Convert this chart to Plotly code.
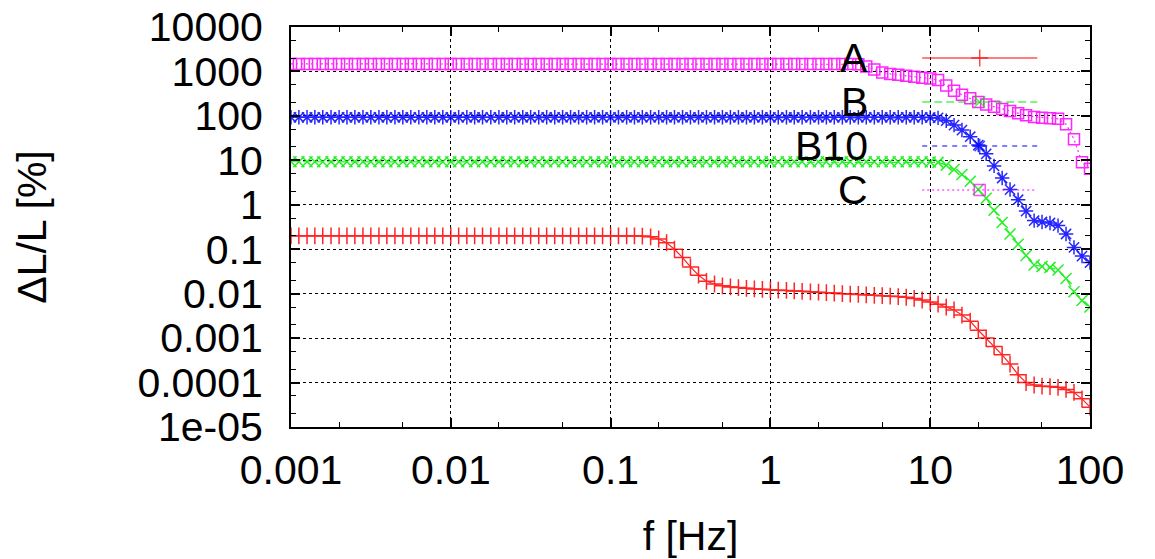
import plotly.graph_objects as go

# ---------------- data ----------------
mantissas = [1.0, 1.12, 1.26, 1.41, 1.58, 1.78, 2.0, 2.24, 2.51, 2.82,
             3.16, 3.55, 3.98, 4.47, 5.01, 5.62, 6.31, 7.08, 7.94, 8.91]
decades = [0.001, 0.01, 0.1, 1, 10]
f_end = [100]
freq = [m * d for d in decades for m in mantissas] + f_end

series_names = ["A", "B", "B10", "C"]

A = [0.2, 0.2, 0.2, 0.2, 0.2, 0.2, 0.2, 0.2, 0.2, 0.2,
     0.2, 0.2, 0.2, 0.2, 0.2, 0.2, 0.2, 0.2, 0.2, 0.2,
     0.2, 0.2, 0.2, 0.2, 0.2, 0.2, 0.2, 0.2, 0.2, 0.2,
     0.2, 0.2, 0.2, 0.2, 0.2, 0.2, 0.2, 0.2, 0.2, 0.2,
     0.2, 0.2, 0.2, 0.2, 0.198, 0.19, 0.17, 0.14, 0.1, 0.065,
     0.04, 0.026, 0.019, 0.0165, 0.015, 0.0142, 0.0137, 0.0132, 0.0128, 0.0125,
     0.0122, 0.012, 0.0118, 0.0115, 0.0113, 0.011, 0.0108, 0.0105, 0.0103, 0.01,
     0.0098, 0.0096, 0.0094, 0.0092, 0.009, 0.0088, 0.0086, 0.0083, 0.0078, 0.0072,
     0.0065, 0.0058, 0.005, 0.0043, 0.0033, 0.0024, 0.0015, 0.001, 0.00065, 0.00042,
     0.00026, 0.00015, 0.0001, 8.8e-5, 8.3e-5, 8.1e-5, 7.8e-5, 7.0e-5, 6.0e-5, 4.3e-5,
     2.8e-5]

B = [9.3, 9.3, 9.3, 9.3, 9.3, 9.3, 9.3, 9.3, 9.3, 9.3,
     9.3, 9.3, 9.3, 9.3, 9.3, 9.3, 9.3, 9.3, 9.3, 9.3,
     9.3, 9.3, 9.3, 9.3, 9.3, 9.3, 9.3, 9.3, 9.3, 9.3,
     9.3, 9.3, 9.3, 9.3, 9.3, 9.3, 9.3, 9.3, 9.3, 9.3,
     9.3, 9.3, 9.3, 9.3, 9.3, 9.3, 9.3, 9.3, 9.3, 9.3,
     9.3, 9.3, 9.3, 9.3, 9.3, 9.3, 9.3, 9.3, 9.3, 9.3,
     9.3, 9.3, 9.3, 9.3, 9.3, 9.3, 9.3, 9.3, 9.3, 9.3,
     9.3, 9.3, 9.3, 9.3, 9.3, 9.3, 9.3, 9.3, 9.3, 9.3,
     9.2, 9.0, 7.8, 6.2, 4.8, 3.4, 2.2, 1.4, 0.75, 0.4,
     0.22, 0.13, 0.072, 0.044, 0.041, 0.039, 0.034, 0.022, 0.011, 0.007,
     0.005]

B10 = [93, 93, 93, 93, 93, 93, 93, 93, 93, 93,
       93, 93, 93, 93, 93, 93, 93, 93, 93, 93,
       93, 93, 93, 93, 93, 93, 93, 93, 93, 93,
       93, 93, 93, 93, 93, 93, 93, 93, 93, 93,
       93, 93, 93, 93, 93, 93, 93, 93, 93, 93,
       93, 93, 93, 93, 93, 93, 93, 93, 93, 93,
       93, 93, 93, 93, 93, 93, 93, 93, 93, 93,
       93, 93, 93, 93, 93, 93, 93, 93, 93, 93,
       92, 90, 78, 62, 48, 34, 22, 14, 7.5, 4.0,
       2.2, 1.3, 0.72, 0.44, 0.41, 0.39, 0.34, 0.22, 0.11, 0.07,
       0.05]

C = [1480, 1480, 1480, 1480, 1480, 1480, 1480, 1480, 1480, 1480,
     1480, 1480, 1480, 1480, 1480, 1480, 1480, 1480, 1480, 1480,
     1480, 1480, 1480, 1480, 1480, 1480, 1480, 1480, 1480, 1480,
     1480, 1480, 1480, 1480, 1480, 1480, 1480, 1480, 1480, 1480,
     1480, 1480, 1480, 1480, 1480, 1480, 1480, 1480, 1480, 1480,
     1480, 1480, 1480, 1480, 1480, 1480, 1480, 1480, 1480, 1480,
     1480, 1480, 1480, 1480, 1480, 1480, 1480, 1480, 1480, 1480,
     1480, 1450, 1300, 1100, 950, 880, 840, 800, 760, 720,
     690, 640, 480, 370, 300, 250, 205, 180, 160, 142,
     128, 115, 103, 95, 91, 89, 86, 65, 30, 9,
     6.5]

y_tickvals = [1e-5, 1e-4, 1e-3, 1e-2, 1e-1, 1, 10, 100, 1000, 10000]
y_ticktext = ["1e-05", "0.0001", "0.001", "0.01", "0.1", "1", "10", "100", "1000", "10000"]
x_tickvals = [0.001, 0.01, 0.1, 1, 10, 100]
x_ticktext = ["0.001", "0.01", "0.1", "1", "10", "100"]

# ---------------- styles ----------------
FONT = "Liberation Sans, Arial, sans-serif"
FS = 41
colors = {"A": "#ff0000", "B": "#00ee00", "B10": "#0000ff", "C": "#ff00ff"}
symbols = {"A": "cross-thin-open", "B": "x-thin-open", "B10": "asterisk-open", "C": "square-open"}
sizes = {"A": 12, "B": 11, "B10": 12, "C": 11}
dashes = {"A": "solid", "B": "8px,4px", "B10": "5px,5px", "C": "2px,3px"}
values = {"A": A, "B": B, "B10": B10, "C": C}

fig = go.Figure()

for name in series_names:
    fig.add_trace(go.Scatter(
        x=freq, y=values[name], mode="lines+markers", name=name,
        line=dict(color=colors[name], width=1.2, dash=dashes[name]),
        marker=dict(symbol=symbols[name], size=sizes[name], color=colors[name],
                    line=dict(color=colors[name], width=1.5)),
        opacity=0.85, showlegend=False,
    ))

# legend (gnuplot-style: text right-aligned, sample to the right)
legend_rows = [0.9225, 0.8125, 0.7025, 0.5925]
for name, ry in zip(series_names, legend_rows):
    fig.add_trace(go.Scatter(
        x=[0.79, 0.862, 0.934], y=[ry, ry, ry], xaxis="x2", yaxis="y2",
        mode="lines+markers", showlegend=False, hoverinfo="skip",
        line=dict(color=colors[name], width=1.2, dash=dashes[name]),
        marker=dict(symbol=symbols[name], size=[0, sizes[name], 0], color=colors[name],
                    line=dict(color=colors[name], width=1.5)),
    ))
    fig.add_annotation(x=0.725, y=ry, xref="paper", yref="paper", text=name,
                       showarrow=False, xanchor="right", yanchor="middle",
                       font=dict(family=FONT, size=FS, color="black"))

# opaque key box hides grid lines
fig.add_shape(type="rect", xref="paper", yref="paper", x0=0.66, x1=0.965, y0=0.5425, y1=0.98,
              fillcolor="white", line=dict(width=0), layer="between")

axis_common = dict(
    type="log", showline=True, linecolor="black", linewidth=2, mirror="allticks",
    ticks="inside", ticklen=9, tickwidth=1.5, tickcolor="black",
    showgrid=True, gridcolor="black", gridwidth=1, griddash="dot",
    zeroline=False, automargin=False, ticklabeloverflow="allow",
    tickfont=dict(family=FONT, size=FS, color="black"),
    minor=dict(ticks="inside", ticklen=5, tickwidth=1.2, tickcolor="black", dtick="D2", showgrid=False),
)

# page body has an 8px margin; figure offset so the plot area lands at x 291-1090, y 27-427
fig.update_layout(
    width=1147, height=551,
    margin=dict(l=283, r=65, t=19, b=132),
    paper_bgcolor="white", plot_bgcolor="white",
    font=dict(family=FONT, size=FS, color="black"),
    xaxis=dict(range=[-3, 2], tickvals=x_tickvals, ticktext=x_ticktext,
               ticklabelstandoff=6,
               title=dict(text="f [Hz]", font=dict(family=FONT, size=FS), standoff=41),
               **axis_common),
    yaxis=dict(range=[-5, 4], tickvals=y_tickvals, ticktext=y_ticktext,
               ticklabelstandoff=18,
               title=dict(text="ΔL/L [%]", font=dict(family=FONT, size=FS), standoff=78),
               **axis_common),
    xaxis2=dict(overlaying="x", range=[0, 1], visible=False, fixedrange=True),
    yaxis2=dict(overlaying="y", range=[0, 1], visible=False, fixedrange=True),
    showlegend=False,
)

fig.write_html("out.html")
